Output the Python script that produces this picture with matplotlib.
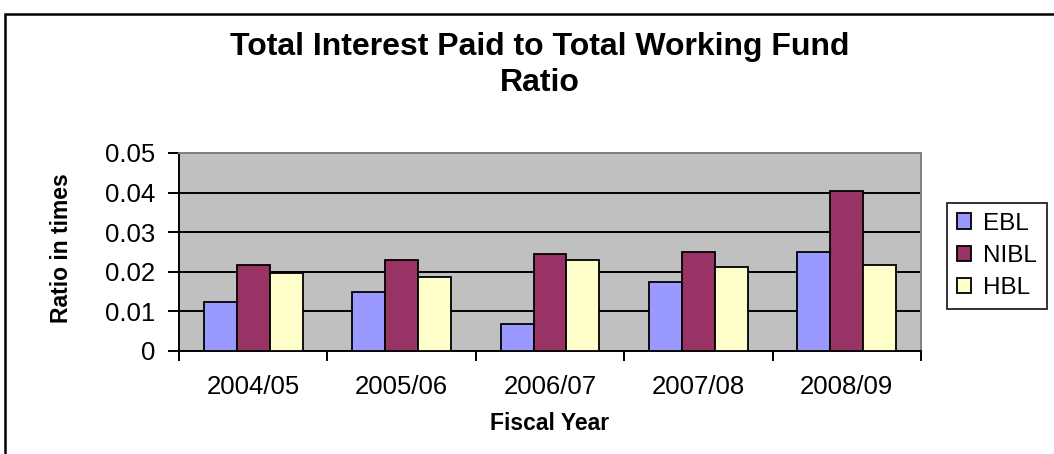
import matplotlib
matplotlib.use("Agg")
import matplotlib.pyplot as plt
from matplotlib.patches import Rectangle
import numpy as np

# Fiscal years and ratio values per bank
years = ["2004/05", "2005/06", "2006/07", "2007/08", "2008/09"]
ebl = [0.0125, 0.0148, 0.0067, 0.0173, 0.0249]
nibl = [0.0216, 0.0229, 0.0245, 0.0251, 0.0404]
hbl = [0.0197, 0.0186, 0.0229, 0.0211, 0.0216]
series_names = ["EBL", "NIBL", "HBL"]
series_colors = ["#9999FF", "#993366", "#FFFFCC"]
y_ticks = [0, 0.01, 0.02, 0.03, 0.04, 0.05]
y_tick_labels = ["0", "0.01", "0.02", "0.03", "0.04", "0.05"]

plt.rcParams["font.family"] = ["Liberation Sans", "DejaVu Sans"]

W, H = 1054, 454
fig = plt.figure(figsize=(W / 100, H / 100), dpi=100)
fig.patch.set_facecolor("white")

# outer chart border
fig.patches.append(Rectangle((5 / W, -0.05), 1.1, 1 - 14 / H + 0.05,
                             transform=fig.transFigure, fill=False,
                             edgecolor="black", linewidth=1.8))

left, right, top, bottom = 179, 921, 153, 351
ax = fig.add_axes([left / W, 1 - bottom / H, (right - left) / W, (bottom - top) / H])
ax.set_facecolor("#C0C0C0")

x = np.arange(len(years))
bw = 1 / 4.5
for i, (vals, name, col) in enumerate(zip([ebl, nibl, hbl], series_names, series_colors)):
    ax.bar(x + (i - 1) * bw, vals, width=bw, color=col, edgecolor="black",
           linewidth=1.3, label=name, zorder=3)

ax.set_xlim(-0.5, len(years) - 0.5)
ax.set_ylim(0, 0.05)
ax.set_yticks(y_ticks)
ax.set_yticklabels(y_tick_labels)
ax.yaxis.grid(True, color="black", linewidth=1.4, zorder=1)
ax.set_axisbelow(True)

ax.set_xticks(x)
ax.set_xticklabels(years)
ax.set_xticks(np.arange(-0.5, len(years)), minor=True)
ax.tick_params(axis="x", which="major", length=0, pad=17, labelsize=18.5)
ax.tick_params(axis="x", which="minor", length=7, width=1.4, direction="out")
ax.tick_params(axis="y", length=8, width=1.4, direction="out", pad=9, labelsize=18.5)

for s in ["left", "bottom"]:
    ax.spines[s].set_color("black")
    ax.spines[s].set_linewidth(1.4)
for s in ["top", "right"]:
    ax.spines[s].set_color("#808080")
    ax.spines[s].set_linewidth(1.4)

fig.text(540 / W, 1 - 65 / H, "Total Interest Paid to Total Working Fund\nRatio",
         ha="center", va="center", fontsize=23, fontweight="bold",
         multialignment="center", linespacing=1.3)

fig.text(62 / W, 1 - 248 / H, "Ratio in times", rotation=90, ha="center",
         va="center", fontsize=16.5, fontweight="bold")

fig.text(550 / W, 1 - 423 / H, "Fiscal Year", ha="center", va="center",
         fontsize=16.5, fontweight="bold")

leg = fig.legend(loc="upper left", bbox_to_anchor=(947 / W, 1 - 203 / H),
                 frameon=True, fancybox=False, shadow=False, fontsize=17.5,
                 handlelength=0.6, handleheight=0.6, handletextpad=0.5,
                 labelspacing=0.42, borderpad=0.4, borderaxespad=0)
leg.get_frame().set_edgecolor("black")
leg.get_frame().set_linewidth(1.4)

fig.savefig("out.png", dpi=100)
